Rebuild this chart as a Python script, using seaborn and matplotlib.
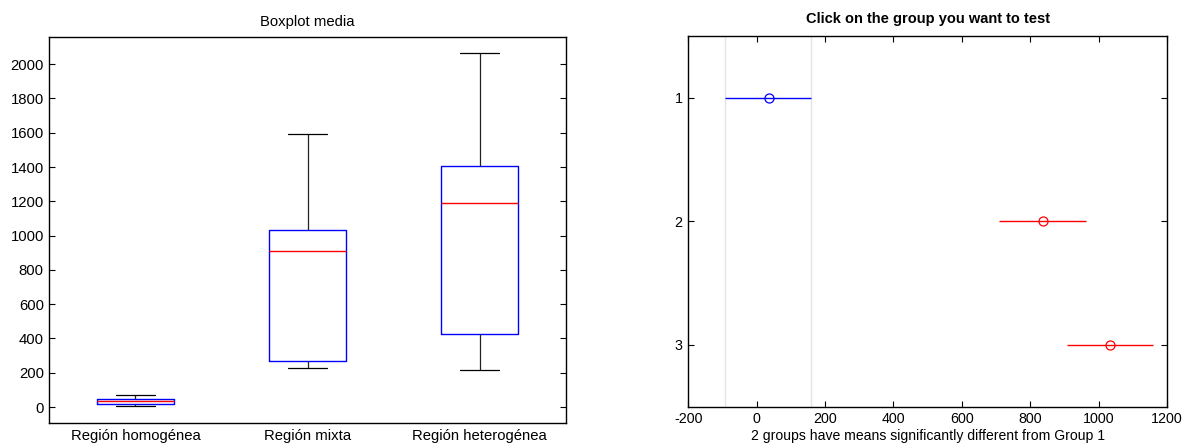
import numpy as np
import pandas as pd
import matplotlib
matplotlib.use("Agg")
import matplotlib.pyplot as plt
import seaborn as sns

# Five-number summaries per region: lower whisker, Q1, median, Q3, upper whisker
regions = ["Región homogénea", "Región mixta", "Región heterogénea"]
homogenea = [8, 20, 35, 49, 72]
mixta = [230, 267, 911, 1030, 1591]
heterogenea = [216, 426, 1190, 1404, 2066]

# Multiple-comparison intervals (group means and comparison interval limits)
groups = [1, 2, 3]
group_means = [35, 837, 1034]
interval_lo = [-93, 709, 907]
interval_hi = [160, 962, 1158]
group_colors = ["blue", "red", "red"]

yticks_left = [0, 200, 400, 600, 800, 1000, 1200, 1400, 1600, 1800, 2000]
xticks_right = [-200, 0, 200, 400, 600, 800, 1000, 1200]

FS = 10.7   # left panel text
FS2 = 10.3  # right panel tick labels

sns.set_theme(style="white")
plt.rcParams["font.family"] = ["Liberation Sans", "DejaVu Sans"]
plt.rcParams["font.size"] = FS
plt.rcParams["axes.unicode_minus"] = False
plt.rcParams["text.color"] = "black"
plt.rcParams["axes.labelcolor"] = "black"
plt.rcParams["xtick.color"] = "black"
plt.rcParams["ytick.color"] = "black"

fig = plt.figure(figsize=(11.97, 4.48), dpi=100)
ax1 = fig.add_axes([0.0412, 0.0551, 0.4314, 0.8629])
ax2 = fig.add_axes([0.5750, 0.0922, 0.3999, 0.8281])

# Left panel: boxplot
df = pd.DataFrame({
    "region": np.repeat(regions, 5),
    "value": homogenea + mixta + heterogenea,
})
sns.boxplot(
    data=df, x="region", y="value", order=regions, ax=ax1,
    fill=False, color="blue", width=0.45, linewidth=1.0, whis=np.inf,
    showfliers=False,
    boxprops=dict(color="blue", linewidth=1.0),
    medianprops=dict(color="red", linewidth=1.0),
    whiskerprops=dict(color="#222222", linewidth=0.9),
    capprops=dict(color="black", linewidth=0.9),
)
ax1.set_xlim(-0.5, 2.5)
ax1.set_ylim(-95, 2160)
ax1.set_yticks(yticks_left)
ax1.set_xlabel("")
ax1.set_ylabel("")
ax1.set_title("Boxplot media", fontsize=FS, pad=8, color="black")
ax1.tick_params(axis="y", direction="in", length=4, width=0.8, left=True,
                right=True, labelsize=FS, pad=4)
ax1.tick_params(axis="x", length=0, labelsize=FS, pad=4)

# Right panel: comparison intervals
for v in (interval_lo[0], interval_hi[0]):
    ax2.axvline(v, color="#e4e4e4", linewidth=1.0, zorder=0)
ax2.hlines(groups, interval_lo, interval_hi, colors=group_colors, linewidth=1.0)
mdf = pd.DataFrame({"mean": group_means, "group": groups, "c": group_colors})
for _, r in mdf.iterrows():
    ax2.plot(r["mean"], r["group"], marker="o", markersize=6.5,
             markerfacecolor="none", markeredgecolor=r["c"],
             markeredgewidth=0.9, linestyle="none")
ax2.set_xlim(-200, 1200)
ax2.set_ylim(3.5, 0.5)
ax2.set_xticks(xticks_right)
ax2.set_yticks(groups)
ax2.set_title("Click on the group you want to test", fontsize=10.5,
              fontweight="bold", pad=9, color="black")
ax2.set_xlabel("2 groups have means significantly different from Group 1",
               fontsize=10.1, labelpad=2)
ax2.tick_params(direction="in", length=4, width=0.8, left=True, right=True,
                top=True, bottom=True, labelsize=FS2, pad=4)

for ax in (ax1, ax2):
    for s in ax.spines.values():
        s.set_visible(True)
        s.set_color("black")
        s.set_linewidth(1.0)

fig.savefig("out.png", dpi=100, facecolor="white")
